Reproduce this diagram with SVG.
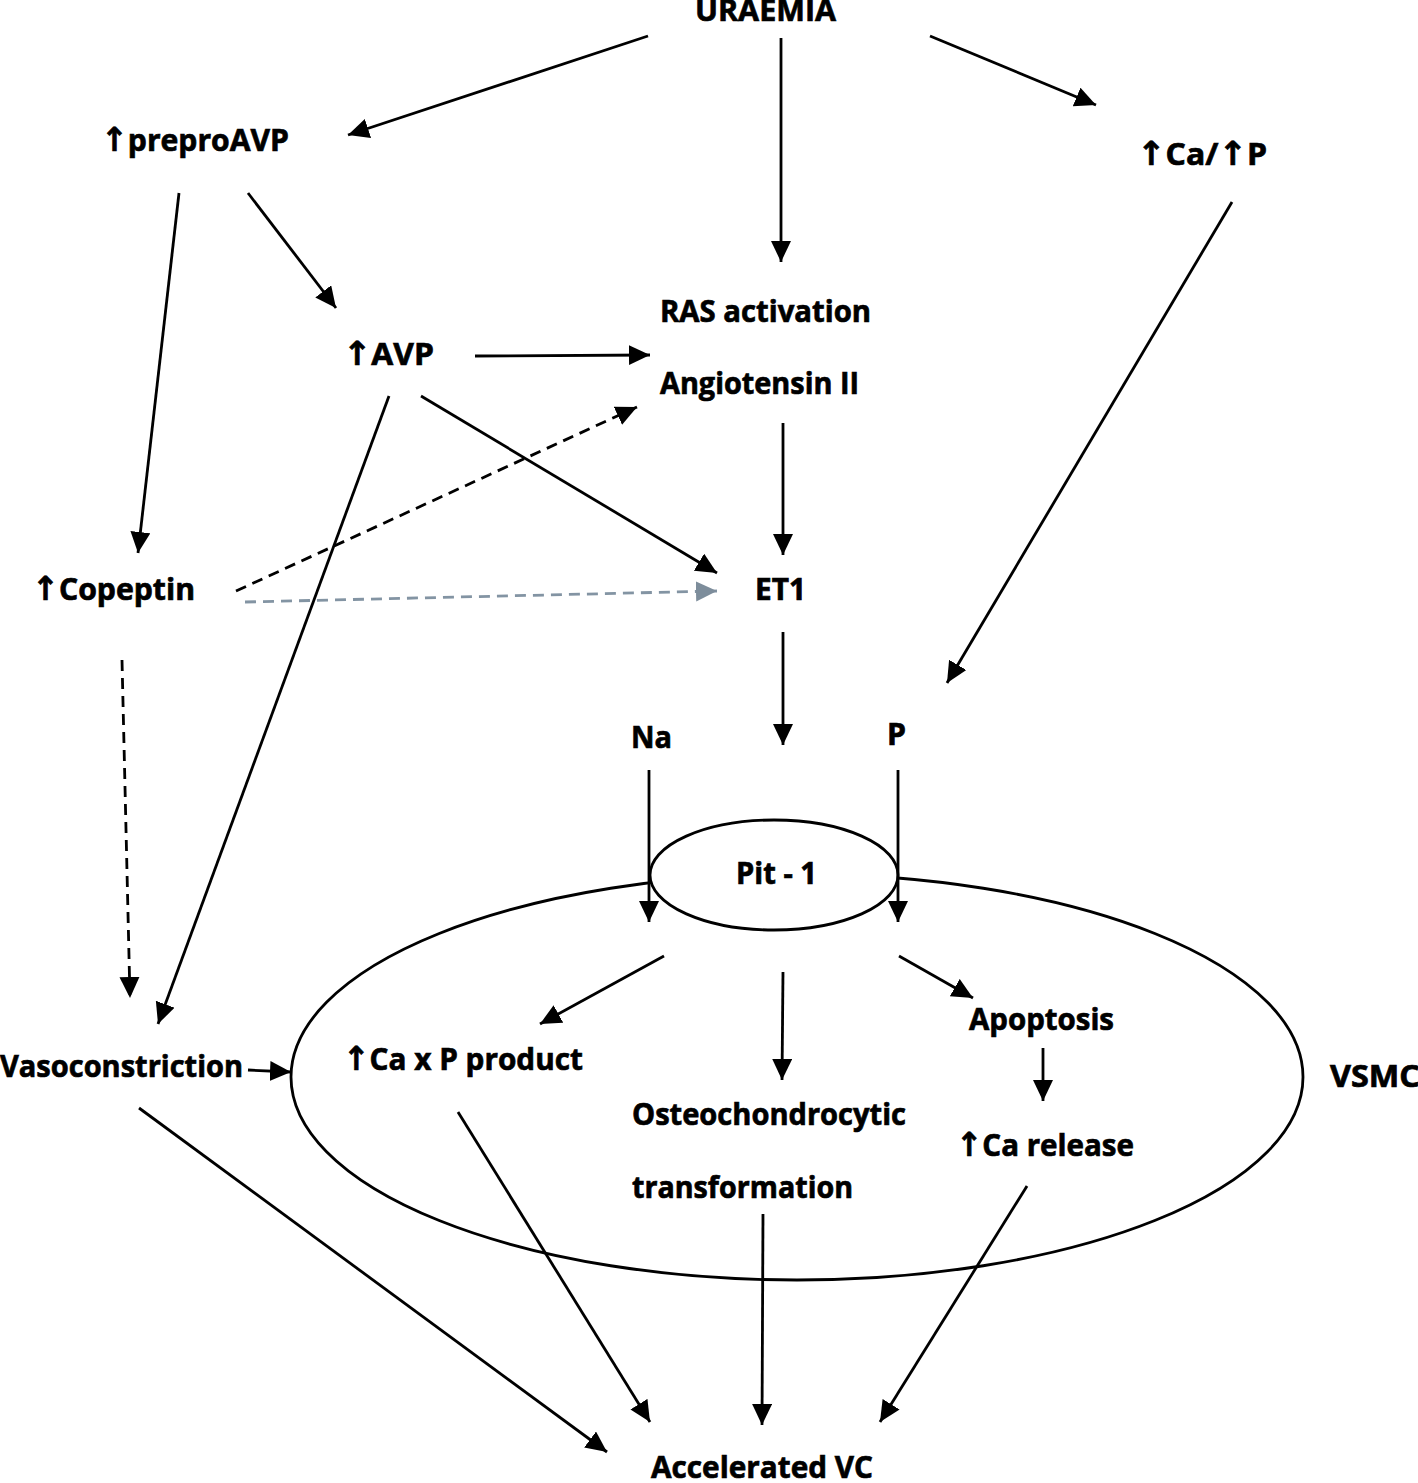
<svg xmlns="http://www.w3.org/2000/svg" width="1418" height="1483" viewBox="0 0 1418 1483">
<defs>
<style>
text{font-family:"Open Sans","Liberation Sans",sans-serif;font-weight:700;font-size:31px;fill:#000;stroke:#000;stroke-width:0.7}
.ar{font-family:"DejaVu Sans",sans-serif;font-weight:700;font-size:33px}
.c{fill:none;stroke:#000;stroke-width:2.8}
.d{stroke-dasharray:11 7}
.g{stroke:#8394a3;stroke-dasharray:11 7}
.sh{fill:#fff;stroke:#000;stroke-width:2.8}
</style>
<marker id="ah" markerUnits="userSpaceOnUse" markerWidth="22" markerHeight="22" refX="21" refY="10" orient="auto"><path d="M0,0 L21,10 L0,20 z" fill="#000"/></marker>
<marker id="ag" markerUnits="userSpaceOnUse" markerWidth="22" markerHeight="22" refX="21" refY="10" orient="auto"><path d="M0,0 L21,10 L0,20 z" fill="#7d8d9b"/></marker>
</defs>
<rect width="1418" height="1483" fill="#fff"/>
<g id="vsmc"><ellipse class="sh" cx="797" cy="1077" rx="506" ry="203"/><text x="1330" y="1087" textLength="90" lengthAdjust="spacingAndGlyphs">VSMC</text></g>
<g id="pit1"><ellipse class="sh" cx="774" cy="875" rx="124" ry="55"/><text x="736" y="884" textLength="81" lengthAdjust="spacingAndGlyphs">Pit - 1</text></g>
<g id="connectors" class="c" marker-end="url(#ah)">
<line x1="648" y1="36" x2="348" y2="135"/>
<line x1="781" y1="38" x2="781" y2="262"/>
<line x1="930" y1="36" x2="1096" y2="105"/>
<line x1="179" y1="193" x2="138" y2="553"/>
<line x1="248" y1="193" x2="336" y2="308"/>
<line x1="475" y1="356" x2="650" y2="355"/>
<line x1="421" y1="396" x2="717" y2="573"/>
<line x1="389" y1="396" x2="158" y2="1024"/>
<line class="c d" x1="236" y1="591" x2="637" y2="407"/>
<line class="c g" x1="245" y1="602" x2="717" y2="591" marker-end="url(#ag)"/>
<line class="c d" x1="122" y1="660" x2="130" y2="998"/>
<line x1="783" y1="423" x2="783" y2="555"/>
<line x1="1232" y1="202" x2="947" y2="683"/>
<line x1="783" y1="632" x2="783" y2="745"/>
<line x1="649" y1="770" x2="649" y2="922"/>
<line x1="898" y1="770" x2="898" y2="922"/>
<line x1="248" y1="1070" x2="291" y2="1072"/>
<line x1="664" y1="956" x2="540" y2="1024"/>
<line x1="783" y1="972" x2="782" y2="1080"/>
<line x1="899" y1="956" x2="973" y2="998"/>
<line x1="1043" y1="1048" x2="1043" y2="1101"/>
<line x1="139" y1="1108" x2="607" y2="1452"/>
<line x1="458" y1="1112" x2="650" y2="1422"/>
<line x1="763" y1="1214" x2="762" y2="1425"/>
<line x1="1027" y1="1186" x2="880" y2="1422"/>
</g>
<g id="uraemia"><text x="695" y="21" textLength="141" lengthAdjust="spacingAndGlyphs">URAEMIA</text></g>
<g id="preproavp"><text x="101" y="151" textLength="188" lengthAdjust="spacingAndGlyphs"><tspan class="ar">↑</tspan>preproAVP</text></g>
<g id="cap"><text x="1137" y="165" textLength="130" lengthAdjust="spacingAndGlyphs"><tspan class="ar">↑</tspan>Ca/<tspan class="ar">↑</tspan>P</text></g>
<g id="ras"><text x="660" y="322" textLength="211" lengthAdjust="spacingAndGlyphs">RAS activation</text><text x="660" y="394" textLength="199" lengthAdjust="spacingAndGlyphs">Angiotensin II</text></g>
<g id="avp"><text x="343" y="365" textLength="91" lengthAdjust="spacingAndGlyphs"><tspan class="ar">↑</tspan>AVP</text></g>
<g id="copeptin"><text x="32" y="600" textLength="163" lengthAdjust="spacingAndGlyphs"><tspan class="ar">↑</tspan>Copeptin</text></g>
<g id="et1"><text x="755" y="600" textLength="51" lengthAdjust="spacingAndGlyphs">ET1</text></g>
<g id="na"><text x="631" y="748" textLength="41" lengthAdjust="spacingAndGlyphs">Na</text></g>
<g id="p"><text x="887" y="745" textLength="19" lengthAdjust="spacingAndGlyphs">P</text></g>
<g id="vasoconstriction"><text x="0" y="1077" textLength="243" lengthAdjust="spacingAndGlyphs">Vasoconstriction</text></g>
<g id="caxp"><text x="343" y="1070" textLength="240" lengthAdjust="spacingAndGlyphs"><tspan class="ar">↑</tspan>Ca x P product</text></g>
<g id="osteo"><text x="632" y="1125" textLength="274" lengthAdjust="spacingAndGlyphs">Osteochondrocytic</text><text x="632" y="1198" textLength="221" lengthAdjust="spacingAndGlyphs">transformation</text></g>
<g id="apoptosis"><text x="969" y="1030" textLength="145" lengthAdjust="spacingAndGlyphs">Apoptosis</text></g>
<g id="carelease"><text x="956" y="1156" textLength="178" lengthAdjust="spacingAndGlyphs"><tspan class="ar">↑</tspan>Ca release</text></g>
<g id="accvc"><text x="651" y="1478" textLength="222" lengthAdjust="spacingAndGlyphs">Accelerated VC</text></g>
</svg>
